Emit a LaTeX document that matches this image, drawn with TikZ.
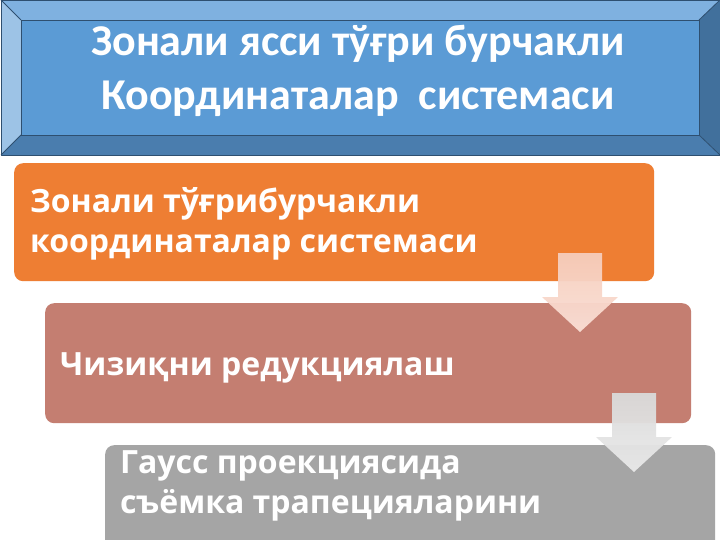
\documentclass[tikz,border=0pt]{standalone}
\usepackage{fontspec}
\setmainfont{Open Sans}
\newfontfamily\titlefont{Carlito}
\newfontfamily\boxfont{Open Sans}
\usetikzlibrary{positioning,calc}
\definecolor{faceblue}{HTML}{5B9BD5}
\definecolor{topbevel}{HTML}{7FB1E0}
\definecolor{leftbevel}{HTML}{9DC3E6}
\definecolor{rightbevel}{HTML}{41709C}
\definecolor{bottombevel}{HTML}{4A7DAE}
\definecolor{bevelline}{HTML}{2E4F70}
\definecolor{boxorange}{HTML}{EE7E33}
\definecolor{boxrose}{HTML}{C47E71}
\definecolor{boxgray}{HTML}{A5A5A5}
\definecolor{arrowpeachA}{HTML}{F6CDBC}
\definecolor{arrowpeachB}{HTML}{FADFD6}
\definecolor{arrowgrayA}{HTML}{DADADA}
\definecolor{arrowgrayB}{HTML}{EAEAEA}
\tikzset{
  stepbox/.style={rounded corners=9pt, draw=none, inner sep=0pt, anchor=north west},
  boxtext/.style={text=white, font=\boxfont\bfseries\fontsize{32}{40}\selectfont, align=left, anchor=base west, inner sep=0pt},
  titletext/.style={text=white, font=\titlefont\bfseries\fontsize{44}{54}\selectfont, align=center, inner sep=0pt, anchor=base},
  bevel/.style={draw=bevelline, line width=0.8pt, line join=round},
}
\begin{document}
\begin{tikzpicture}[x=1pt,y=-1pt]
\useasboundingbox (0,0) rectangle (720,540);
\fill[white] (0,0) rectangle (720,540);
% title bevel box
\coordinate (oTL) at (1,0);
\coordinate (oTR) at (720,0);
\coordinate (oBR) at (720,155);
\coordinate (oBL) at (1,155);
\coordinate (iTL) at (21,20);
\coordinate (iTR) at (699,20);
\coordinate (iBR) at (699,135);
\coordinate (iBL) at (21,135);
\fill[topbevel] (oTL) -- (oTR) -- (iTR) -- (iTL) -- cycle;
\fill[leftbevel] (oTL) -- (iTL) -- (iBL) -- (oBL) -- cycle;
\fill[rightbevel] (oTR) -- (oBR) -- (iBR) -- (iTR) -- cycle;
\fill[bottombevel] (oBL) -- (iBL) -- (iBR) -- (oBR) -- cycle;
\node[fill=faceblue, draw=bevelline, line width=0.8pt, inner sep=0pt, anchor=north west,
      minimum width=678pt, minimum height=115pt] (face) at (iTL) {};
\draw[bevel] (oTL) -- (iTL) (oTR) -- (iTR) (oBR) -- (iBR) (oBL) -- (iBL);
\draw[bevel] (oTL) rectangle (oBR);
\node[titletext] (title) at (358,110) {Зонали ясси тўғри бурчакли\\ Координаталар\ \ системаси};
% step boxes
\node[stepbox, fill=boxorange, minimum width=640pt, minimum height=118pt] (b1) at (14,163) {};
\node[stepbox, fill=boxrose, minimum width=646pt, minimum height=120pt] (b2) at (45,303) {};
\node[stepbox, fill=boxgray, minimum width=610pt, minimum height=120pt] (b3) at (105,445) {};
% texts (anchor = baseline of the last line)
\node[boxtext] (t1) at (30,252) {Зонали тўғрибурчакли\\координаталар системаси};
\node[boxtext] (t2) at (60,375) {Чизиқни редукциялаш};
\node[boxtext] (t3) at (120,513) {Гаусс проекциясида\\съёмка трапецияларини};
% down arrows
\coordinate (a1top) at (580,253);
\coordinate (a1tip) at (580,332);
\coordinate (a2top) at (634,393);
\coordinate (a2tip) at (634,472);
\shade[top color=arrowpeachA, bottom color=arrowpeachB, opacity=0.95]
  ($(a1top)+(-22,0)$) -- ($(a1top)+(22,0)$) -- ($(a1top)+(22,44)$) -- ($(a1top)+(38,44)$)
  -- (a1tip) -- ($(a1top)+(-38,44)$) -- ($(a1top)+(-22,44)$) -- cycle;
\shade[top color=arrowgrayA, bottom color=arrowgrayB, opacity=0.95]
  ($(a2top)+(-22,0)$) -- ($(a2top)+(22,0)$) -- ($(a2top)+(22,44)$) -- ($(a2top)+(38,44)$)
  -- (a2tip) -- ($(a2top)+(-38,44)$) -- ($(a2top)+(-22,44)$) -- cycle;
\end{tikzpicture}
\end{document}
